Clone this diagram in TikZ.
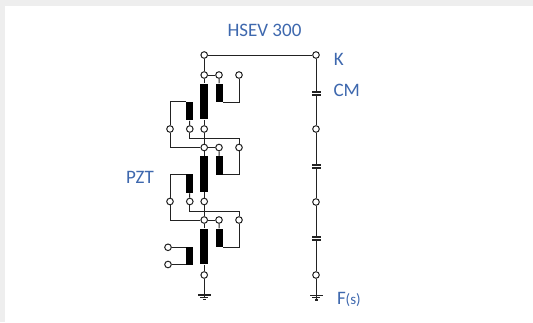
\documentclass[tikz,border=0pt]{standalone}
\usepackage{fontspec}
\setmainfont{Carlito}
\definecolor{labelblue}{HTML}{3E68AE}
\definecolor{pagegray}{HTML}{EEEEEE}
\definecolor{wire}{HTML}{222222}
\begin{document}
\begin{tikzpicture}[x=1pt, y=-1pt, line width=1pt, color=wire]
      \tikzstyle{term} = [circle,draw=wire,fill=white,line width=1pt,minimum size=6.6pt,inner sep=0pt]
      \tikzstyle{bigcoil} = [rectangle,fill=black,minimum width=7.6pt,minimum height=35.5pt,inner sep=0pt]
      \tikzstyle{smallcoil} = [rectangle,fill=black,minimum width=7pt,minimum height=18.5pt,inner sep=0pt]
      \tikzstyle{plate} = [rectangle,fill=wire,minimum height=1.1pt,inner sep=0pt]
      \tikzstyle{word} = [font=\fontsize{19}{22}\selectfont,text=labelblue,inner sep=0pt]
      \useasboundingbox (0,0) rectangle (533,322);
      \fill[pagegray] (0,0) rectangle (533,322);
      \fill[white] (5,6) rectangle (533,322);
      % primary stages
      \foreach \n/\y in {1/75,2/147.5,3/220}{
        \node (A\n) [term] at (204.2,\y) {};
        \node (B\n) [term] at (219,\y) {};
        \node (C\n) [term] at (239,\y) {};
        \node (BIG\n) [bigcoil] at (204.2,\y+26.5) {};
        \node (SEC\n) [smallcoil] at (219.3,\y+18) {};
        \node (PRI\n) [smallcoil] at (189.5,\y+36) {};
        \draw (A\n) -- (B\n);
        \draw (A\n) -- (BIG\n);
        \draw (B\n) -- (SEC\n);
        \draw (SEC\n.south east) ++(0,-0.5) -| (C\n);
      }
      % links between stages
      \foreach \n/\m/\y in {1/2/129,2/3/201.5}{
        \node (L\n) [term] at (170,\y) {};
        \node (M\n) [term] at (189.8,\y) {};
        \node (N\n) [term] at (204.2,\y) {};
        \coordinate (J\n) at (239,\y+9.5);
        \draw (PRI\n.north west) ++(0,0.5) -| (L\n);
        \draw (PRI\n) -- (M\n);
        \draw (BIG\n) -- (N\n);
        \draw (L\n) |- (A\m);
        \draw (M\n) |- (J\n) -- (C\m);
        \draw (N\n) -- (A\m);
      }
      \node (TOP) [term] at (204.2,55) {};
      \node (K) [term] at (316,55) {};
      \draw (TOP) -- (K);
      \draw (TOP) -- (A1);
      % last stage
      \node (P) [term] at (168,247.3) {};
      \node (Q) [term] at (168,264.5) {};
      \node (END) [term] at (204.2,275) {};
      \draw (P) -- (PRI3.west |- P);
      \draw (Q) -- (PRI3.west |- Q);
      \draw (BIG3) -- (END);
      \node (GA1) [plate,minimum width=13pt] at (204.2,295) {};
      \node (GA2) [plate,minimum width=8pt] at (204.2,297.3) {};
      \node (GA3) [plate,minimum width=3pt] at (204.2,299.5) {};
      \draw (END) -- (GA3);
      % divider
      \node (CM1) [plate,minimum width=9pt] at (316,92) {};
      \node (CM2) [plate,minimum width=9pt] at (316,95) {};
      \node (T1) [term] at (316,129) {};
      \node (CM3) [plate,minimum width=9pt] at (316,165) {};
      \node (CM4) [plate,minimum width=9pt] at (316,168) {};
      \node (T2) [term] at (316,202) {};
      \node (CM5) [plate,minimum width=9pt] at (316,237) {};
      \node (CM6) [plate,minimum width=9pt] at (316,240) {};
      \node (T3) [term] at (316,275) {};
      \node (GB1) [plate,minimum width=13pt] at (316,295.5) {};
      \node (GB2) [plate,minimum width=8pt] at (316,297.8) {};
      \node (GB3) [plate,minimum width=3pt] at (316,300) {};
      \draw (K) -- (CM1);
      \draw (CM2) -- (T1);
      \draw (T1) -- (CM3);
      \draw (CM4) -- (T2);
      \draw (T2) -- (CM5);
      \draw (CM6) -- (T3);
      \draw (T3) -- (GB3);
      % labels
      \node (HSEV) [word,anchor=base] at (264.5,36) {HSEV 300};
      \node (KLAB) [word,anchor=base west] at (333.3,65) {K};
      \node (CMLAB) [word,anchor=base west] at (333,96) {CM};
      \node (PZT) [word,anchor=base] at (140,183) {PZT};
      \node (FS) [word,anchor=base west] at (336.5,304.5) {F{\fontsize{15}{15}\selectfont(s)}};
    \end{tikzpicture}
\end{document}
